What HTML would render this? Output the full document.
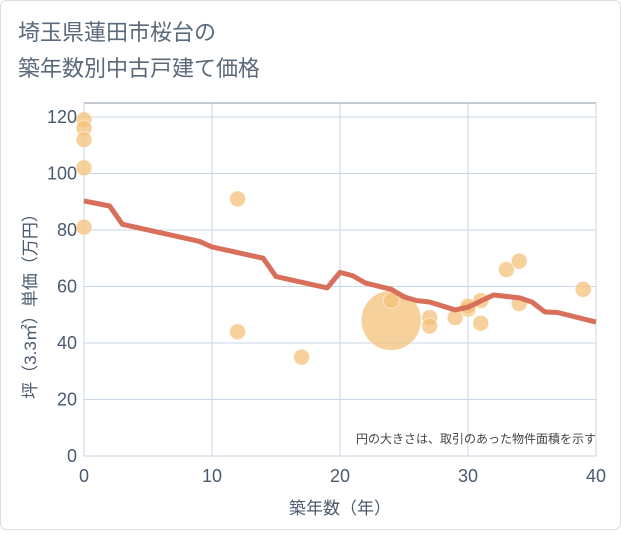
<!DOCTYPE html>
<html><head><meta charset="utf-8"><style>
body{margin:0;background:#fff;font-family:"Liberation Sans","Noto Sans CJK JP",sans-serif;}
</style></head><body>
<svg width="621" height="530" viewBox="0 0 621 530" id="c" font-family="Liberation Sans, Noto Sans CJK JP, sans-serif">
<rect x="0.5" y="0.5" width="620" height="529" rx="6" fill="#fff" stroke="#ddd"/>
<text x="18" y="40" font-size="22" fill="#5a6a7a">埼玉県蓮田市桜台の</text>
<text x="18" y="76" font-size="22" fill="#5a6a7a">築年数別中古戸建て価格</text>
<rect x="84" y="103" width="512" height="353" fill="none" stroke="#8a96a3" stroke-width="1"/>
<g id="grid"></g><g id="bubbles"></g><g id="line"></g><g id="ticks"></g>
<text x="596" y="443" font-size="12" fill="#444" text-anchor="end">円の大きさは、取引のあった物件面積を示す</text>
<text x="340" y="514" font-size="17" fill="#4a5b6e" text-anchor="middle">築年数（年）</text>
<text transform="translate(36,302) rotate(-90)" font-size="17" fill="#4a5b6e" text-anchor="middle">坪（3.3㎡）単価（万円）</text>
</svg>
<script>
const xTicks=[0,10,20,30,40];
const yTicks=[0,20,40,60,80,100,120];
const lineX=[0,2,3,9,10,14,15,19,20,21,22,24,25,26,27,29,30,32,34,35,36,37,40];
const lineY=[90.3,88.5,82,76,74,70,63.5,59.5,65,63.8,61.2,59,56.3,55,54.5,51.7,52.7,57,56,54.5,51,50.8,47.4];
const bubX=[0,0,0,0,0,12,12,17,24,24,27,27,29,30,30,31,31,33,34,34,39];
const bubY=[119,116,112,102,81,91,44,35,48,55,49,46,49,52,53,55,47,66,69,54,59];
const bubR=[8,8,8,8,8,8,8,8,30,8,8,8,8,8,8,8,8,8,8,8,8];
const NS="http://www.w3.org/2000/svg";
const xs=v=>84+v*12.8, ys=v=>456-v*2.825;
function mk(t,a,p){const e=document.createElementNS(NS,t);for(const k in a)e.setAttribute(k,a[k]);p.appendChild(e);return e;}
const g=document.getElementById('grid'),tk=document.getElementById('ticks');
xTicks.forEach(v=>{const l=mk('line',{x1:xs(v),x2:xs(v),y1:103,y2:456,stroke:'#c9d6e5'},g);


const t=mk('text',{x:xs(v),y:482,'font-size':18,fill:'#4a5b6e','text-anchor':'middle'},tk);t.textContent=v;

});
yTicks.forEach(v=>{const l=mk('line',{x1:84,x2:596,y1:ys(v),y2:ys(v),stroke:'#c9d6e5'},g);


const t=mk('text',{x:77,y:ys(v)+6,'font-size':18,fill:'#4a5b6e','text-anchor':'end'},tk);t.textContent=v;

});
const b=document.getElementById('bubbles');
bubX.forEach((x,i)=>{const c=mk('circle',{cx:xs(x),cy:ys(bubY[i]),r:bubR[i],fill:'#f4c17a','fill-opacity':0.75,stroke:'#fff','stroke-opacity':0.5},b);

});
const p=mk('polyline',{points:lineX.map((x,i)=>xs(x)+','+ys(lineY[i])).join(' '),fill:'none',stroke:'#d86f5a','stroke-width':5,'stroke-linejoin':'round'},document.getElementById('line'));


</script>
</body></html>
